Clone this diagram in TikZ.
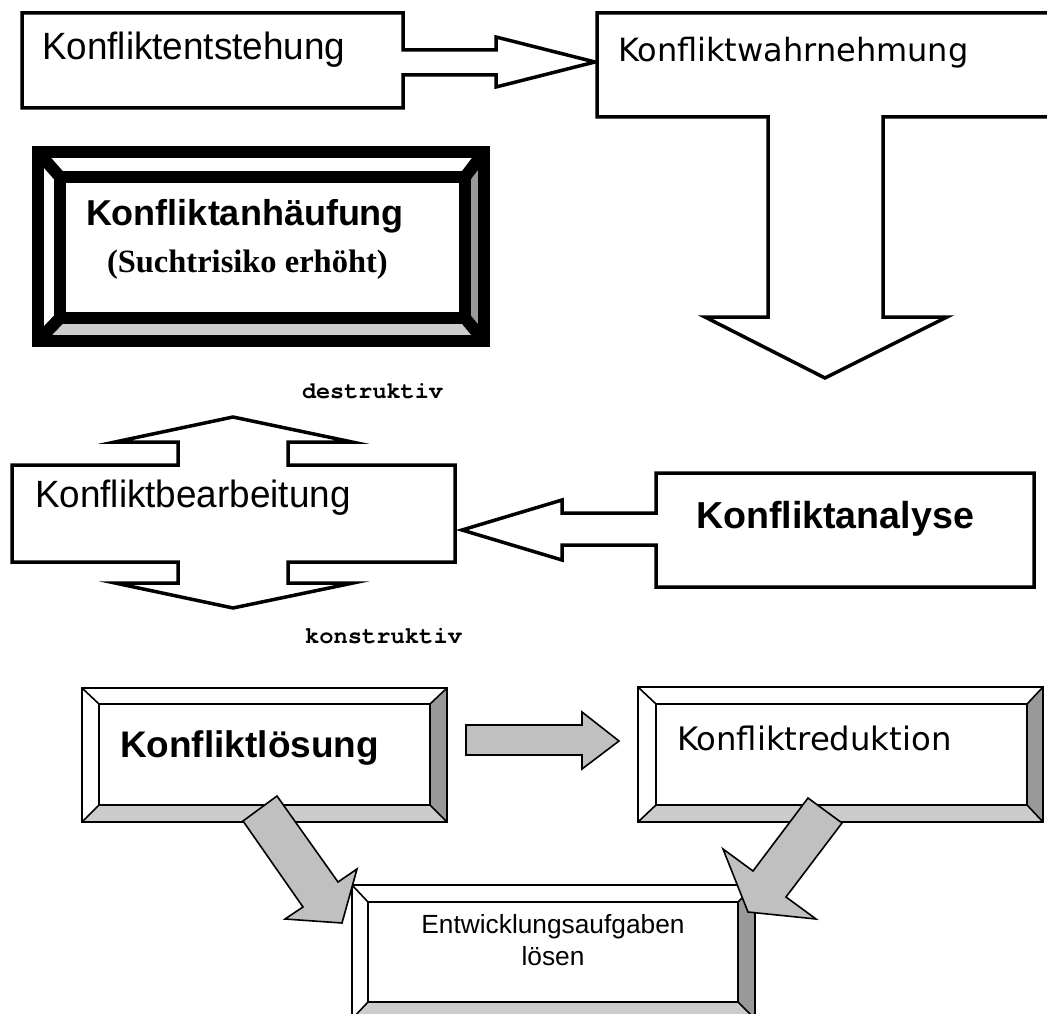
\documentclass[tikz,border=0pt]{standalone}
\usepackage{fontspec}
\setmainfont{Liberation Sans}
\newfontfamily\narrowsans{Liberation Sans}[FakeStretch=0.97]
\newfontfamily\tahomaish{DejaVu Sans}
\newfontfamily\timesfam{Liberation Serif}
\newfontfamily\courfam{texgyrecursor}[Extension=.otf, UprightFont=*-regular, BoldFont=*-bold]
\definecolor{arrowgray}{HTML}{C0C0C0}
\definecolor{bevdark}{HTML}{999999}
\definecolor{bevlight}{HTML}{CCCCCC}
% outer x1 y1 x2 y2, inner a1 b1 a2 b2
\newcommand\bevelbox[8]{%
  \fill[white] (#1,#2) -- (#3,#2) -- (#7,#6) -- (#5,#6) -- cycle;
  \fill[white] (#1,#2) -- (#5,#6) -- (#5,#8) -- (#1,#4) -- cycle;
  \fill[bevdark] (#3,#2) -- (#3,#4) -- (#7,#8) -- (#7,#6) -- cycle;
  \fill[bevlight] (#1,#4) -- (#3,#4) -- (#7,#8) -- (#5,#8) -- cycle;
  \fill[white] (#5,#6) rectangle (#7,#8);
  \draw (#1,#2) rectangle (#3,#4);
  \draw (#5,#6) rectangle (#7,#8);
  \draw (#1,#2) -- (#5,#6) (#3,#2) -- (#7,#6) (#3,#4) -- (#7,#8) (#1,#4) -- (#5,#8);
}
\tikzset{
  outline/.style={draw=black, fill=white, line width=3.5pt, line join=miter},
  grayarrow/.style={draw=black, fill=arrowgray, line width=1.6pt, line join=miter},
  lbl/.style={anchor=base west, inner sep=0pt, outer sep=0pt},
  clbl/.style={anchor=base, inner sep=0pt, outer sep=0pt},
}
\begin{document}
\begin{tikzpicture}[x=1pt, y=-1pt]
\useasboundingbox (0,0) rectangle (1047,1014);
\clip (0,0) rectangle (1047,1014);
\fill[white] (0,0) rectangle (1047,1014);

% Konfliktentstehung with block arrow
\path[outline] (22,13) -- (403,13) -- (403,50) -- (496,50) -- (496,37) -- (595,62)
  -- (496,87) -- (496,75) -- (403,75) -- (403,108) -- (22,108) -- cycle;

% Konfliktwahrnehmung with T-arrow
\path[outline] (597,13) -- (1055,13) -- (1055,117) -- (883,117) -- (883,317) -- (947,317)
  -- (825,378) -- (705,317) -- (768,317) -- (768,117) -- (597,117) -- cycle;

% Konfliktanhaeufung thick bevel
\begin{scope}[line width=12pt]
  \bevelbox{38}{152}{484}{341}{60}{177}{465}{318}
\end{scope}

% Konfliktbearbeitung double arrow
\path[outline] (12,465) -- (178,465) -- (178,442) -- (115,442) -- (233,417) -- (352,442)
  -- (288,442) -- (288,465) -- (455,465) -- (455,562) -- (288,562) -- (288,583)
  -- (353,583) -- (233,608) -- (115,583) -- (178,583) -- (178,562) -- (12,562) -- cycle;

% Konfliktanalyse with block arrow to the left
\path[outline] (656,473) -- (1034,473) -- (1034,587) -- (656,587) -- (656,545) -- (562,545)
  -- (562,560) -- (462,530) -- (562,500) -- (562,513) -- (656,513) -- cycle;

% bottom bevel boxes
\begin{scope}[line width=1.6pt]
  \bevelbox{82}{688}{447}{822}{99}{704}{430}{805}
  \bevelbox{638}{687}{1043}{822}{656}{704}{1027}{805}
  \bevelbox{352}{885}{755}{1019}{368}{902}{738}{1002}
\end{scope}

% texts
\node[lbl, font=\narrowsans\fontsize{38}{40}\selectfont] (entst) at (42,60) {Konfliktentstehung};
\node[lbl, font=\tahomaish\fontsize{32}{36}\selectfont] (wahrn) at (618,62) {Konfliktwahrnehmung};
\node[lbl, font=\bfseries\fontsize{36}{40}\selectfont] (anh) at (86,225) {Konfliktanhäufung};
\node[lbl, font=\timesfam\bfseries\fontsize{32.5}{34}\selectfont] (sucht) at (107,272) {(Suchtrisiko erhöht)};
\node[lbl, font=\courfam\bfseries\fontsize{23.5}{26}\selectfont] (destr) at (302,398) {destruktiv};
\node[lbl, font=\narrowsans\fontsize{38}{40}\selectfont] (bearb) at (35,507) {Konfliktbearbeitung};
\node[lbl, font=\courfam\bfseries\fontsize{23.8}{26}\selectfont] (konstr) at (305,643) {konstruktiv};
\node[lbl, font=\bfseries\fontsize{37.6}{40}\selectfont] (analyse) at (696,528) {Konfliktanalyse};
\node[lbl, font=\bfseries\fontsize{37}{40}\selectfont] (loesung) at (120,757) {Konfliktlösung};
\node[lbl, font=\tahomaish\fontsize{32.3}{36}\selectfont] (redukt) at (677,750) {Konfliktreduktion};
\node[clbl, font=\fontsize{26.3}{30}\selectfont] (entw) at (553,933) {Entwicklungsaufgaben};
\node[clbl, font=\fontsize{26.3}{30}\selectfont] (entw2) at (553,965) {lösen};

% gray arrows
\path[grayarrow] (466,725) -- (582,725) -- (582,712) -- (619,741) -- (582,769) -- (582,755) -- (466,755) -- cycle;
\path[grayarrow] (277,796) -- (338,882) -- (357,869) -- (342,923) -- (285,919) -- (303,907) -- (243,821) -- cycle;
\path[grayarrow] (808,798) -- (753,871) -- (723,849) -- (748,912) -- (816,919) -- (786,897) -- (842,823) -- cycle;
\end{tikzpicture}
\end{document}
